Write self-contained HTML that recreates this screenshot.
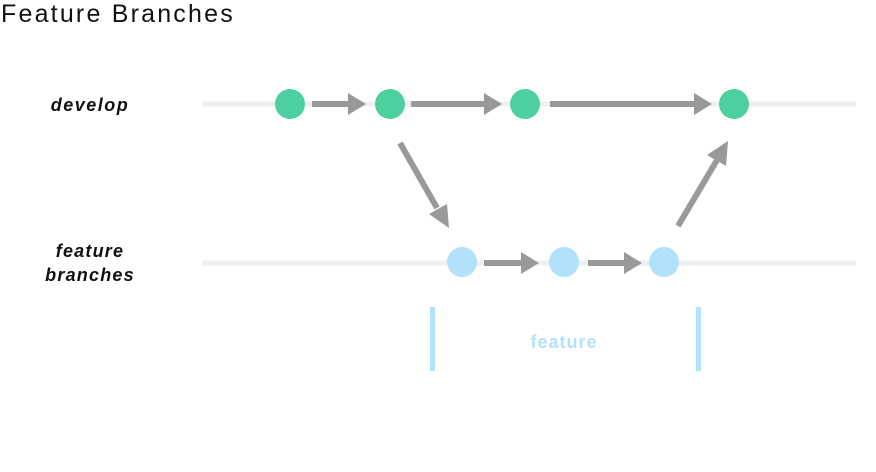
<!DOCTYPE html>
<html><head><meta charset="utf-8"><style>
html,body{margin:0;padding:0;background:#fff;width:876px;height:472px;overflow:hidden}
</style></head><body>
<svg width="876" height="472" viewBox="0 0 876 472" xmlns="http://www.w3.org/2000/svg" font-family="Liberation Sans, sans-serif">
<text x="1" y="22" font-size="25" font-weight="300" fill="#111" letter-spacing="2.2">Feature Branches</text>
<text x="90" y="111" font-size="18" font-weight="bold" font-style="italic" text-anchor="middle" fill="#111" letter-spacing="1.5">develop</text>
<text x="90" y="257" font-size="18" font-weight="bold" font-style="italic" text-anchor="middle" fill="#111" letter-spacing="1.2">feature</text>
<text x="90" y="281" font-size="18" font-weight="bold" font-style="italic" text-anchor="middle" fill="#111" letter-spacing="1.2">branches</text>
<line x1="202" y1="104" x2="856" y2="104" stroke="#efefef" stroke-width="5"/>
<line x1="202" y1="263" x2="856" y2="263" stroke="#efefef" stroke-width="5"/>
<g fill="#999" stroke="#999">
<line x1="312" y1="104" x2="352" y2="104" stroke-width="6"/><polygon points="348,93 366,104 348,115" stroke="none"/>
<line x1="411" y1="104" x2="488" y2="104" stroke-width="6"/><polygon points="484,93 502,104 484,115" stroke="none"/>
<line x1="550" y1="104" x2="698" y2="104" stroke-width="6"/><polygon points="694,93 712,104 694,115" stroke="none"/>
<line x1="484" y1="263" x2="525" y2="263" stroke-width="6"/><polygon points="521,252 539,263 521,274" stroke="none"/>
<line x1="588" y1="263" x2="628" y2="263" stroke-width="6"/><polygon points="624,252 642,263 624,274" stroke="none"/>
<line x1="400" y1="143" x2="437" y2="208" stroke-width="6"/><polygon points="429,214 449,228 447,204" stroke="none"/>
<line x1="678" y1="226" x2="717" y2="160" stroke-width="6"/><polygon points="707,155 728,141 726,166" stroke="none"/>
</g>
<g fill="#4ecf9e">
<circle cx="290" cy="104" r="15"/><circle cx="390" cy="104" r="15"/><circle cx="525" cy="104" r="15"/><circle cx="734" cy="104" r="15"/>
</g>
<g fill="#b1e1fb">
<circle cx="462" cy="262" r="15"/><circle cx="564" cy="262" r="15"/><circle cx="664" cy="262" r="15"/>
</g>
<rect x="430" y="307" width="5" height="64" fill="#b3e2fc"/>
<rect x="696" y="307" width="5" height="64" fill="#b3e2fc"/>
<text x="564" y="348" font-size="18" font-weight="bold" text-anchor="middle" fill="#b3e2fc" letter-spacing="1">feature</text>
</svg>
</body></html>
